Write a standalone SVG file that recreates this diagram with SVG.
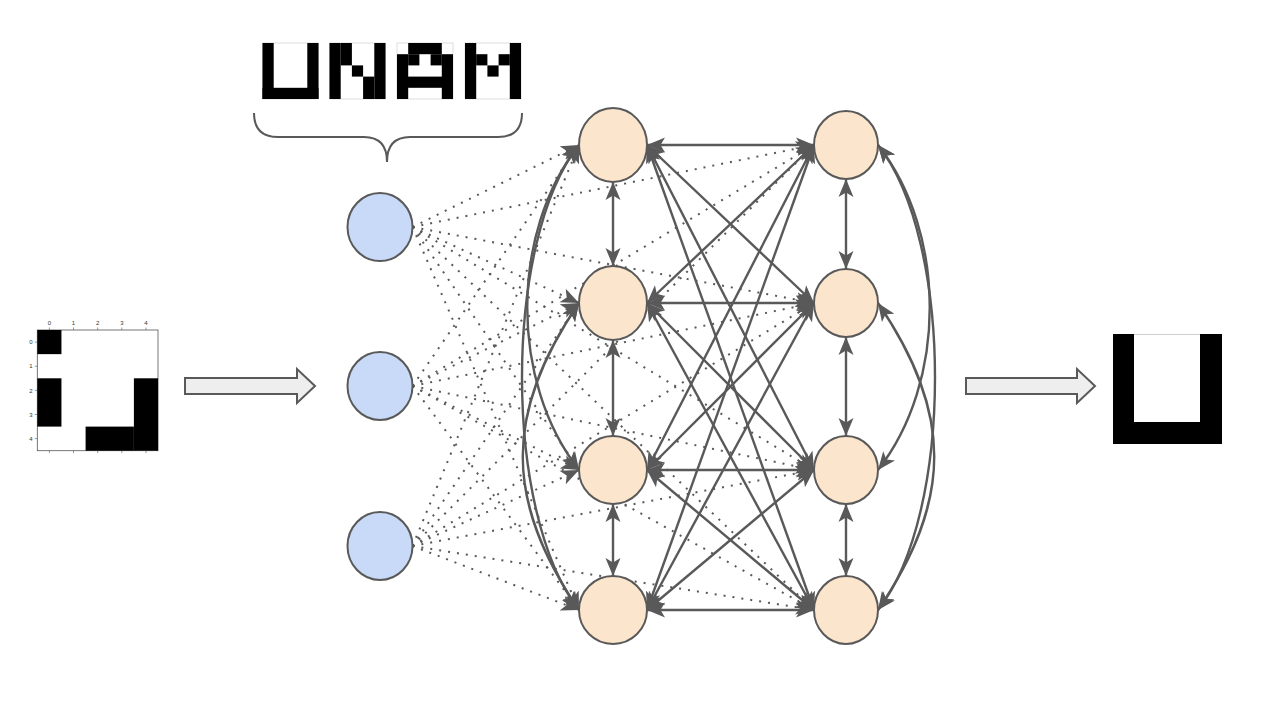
<svg xmlns="http://www.w3.org/2000/svg" width="1270" height="716" viewBox="0 0 1270 716">
<style>
.blk{fill:#000}
.lt{fill:#fff;stroke:#d4d4d4;stroke-width:0.8}
.in{fill:#c9daf8;stroke:#595959;stroke-width:2}
.hid{fill:#fce5cd;stroke:#595959;stroke-width:2}
.sol{fill:none;stroke:#595959;stroke-width:2.4;marker-start:url(#ah);marker-end:url(#ah)}
.dot{fill:none;stroke:#595959;stroke-width:2;stroke-dasharray:2 7;marker-end:url(#ah)}
.tick{stroke:#555;stroke-width:0.6}
.lbl{font-family:"Liberation Sans",Arial,sans-serif;font-size:6px;fill:#333}
.blockarrow{fill:#eeeeee;stroke:#595959;stroke-width:2}
</style>
<defs>
<marker id="ah" markerUnits="userSpaceOnUse" markerWidth="20" markerHeight="16" refX="18" refY="7.5" orient="auto-start-reverse" viewBox="0 0 20 15">
<path d="M0,0 L18,7.5 L0,15 L4.5,7.5 Z" fill="#595959"/>
</marker>
<filter id="soft" x="-5%" y="-5%" width="110%" height="110%"><feGaussianBlur stdDeviation="0.6"/></filter>
</defs>
<rect width="1270" height="716" fill="#fff"/>

<g id="input-image">
<rect x="37.3" y="330" width="120.7" height="120.7" fill="#fff" stroke="#555" stroke-width="0.8"/>
<rect class="blk" x="37.3" y="330" width="24.14" height="24.14"/>
<rect class="blk" x="37.3" y="378.3" width="24.14" height="48.3"/>
<rect class="blk" x="133.9" y="378.3" width="24.14" height="72.4"/>
<rect class="blk" x="85.6" y="426.6" width="48.3" height="24.14"/>
<g class="tick">
<line x1="49.4" y1="330" x2="49.4" y2="327.5"/><line x1="73.5" y1="330" x2="73.5" y2="327.5"/><line x1="97.7" y1="330" x2="97.7" y2="327.5"/><line x1="121.8" y1="330" x2="121.8" y2="327.5"/><line x1="146" y1="330" x2="146" y2="327.5"/>
<line x1="49.4" y1="450.7" x2="49.4" y2="453.2"/><line x1="73.5" y1="450.7" x2="73.5" y2="453.2"/><line x1="97.7" y1="450.7" x2="97.7" y2="453.2"/><line x1="121.8" y1="450.7" x2="121.8" y2="453.2"/><line x1="146" y1="450.7" x2="146" y2="453.2"/>
<line x1="37.3" y1="342.1" x2="34.8" y2="342.1"/><line x1="37.3" y1="366.2" x2="34.8" y2="366.2"/><line x1="37.3" y1="390.4" x2="34.8" y2="390.4"/><line x1="37.3" y1="414.5" x2="34.8" y2="414.5"/><line x1="37.3" y1="438.6" x2="34.8" y2="438.6"/>
</g>
<g class="lbl" text-anchor="middle">
<text x="49.4" y="325">0</text><text x="73.5" y="325">1</text><text x="97.7" y="325">2</text><text x="121.8" y="325">3</text><text x="146" y="325">4</text>
<text x="31" y="344.2">0</text><text x="31" y="368.3">1</text><text x="31" y="392.5">2</text><text x="31" y="416.6">3</text><text x="31" y="440.7">4</text>
</g>
</g>

<g id="arrow-in"><polygon class="blockarrow" points="185,378 297,378 297,369 315,386 297,403 297,394 185,394"/></g>
<g id="arrow-out"><polygon class="blockarrow" points="966,378 1077,378 1077,369 1095,386 1077,403 1077,394 966,394"/></g>

<g id="output-image" filter="url(#soft)">
<rect x="1113" y="334" width="109" height="110" fill="#000"/>
<rect x="1134" y="334" width="66" height="88" fill="#fff"/>
<line x1="1134" y1="334.5" x2="1200" y2="334.5" stroke="#cfcfcf" stroke-width="1"/>
</g>

<g id="unam">
<g id="letter-U">
<rect class="lt" x="262.5" y="43" width="56" height="56"/>
<rect class="blk" x="262.5" y="43" width="11.2" height="56"/>
<rect class="blk" x="307.3" y="43" width="11.2" height="56"/>
<rect class="blk" x="262.5" y="87.8" width="56" height="11.2"/>
</g>
<g id="letter-N">
<rect class="lt" x="329.5" y="43" width="56" height="56"/>
<rect class="blk" x="329.5" y="43" width="11.2" height="56"/>
<rect class="blk" x="374.3" y="43" width="11.2" height="56"/>
<rect class="blk" x="340.7" y="43" width="11.2" height="22.4"/>
<rect class="blk" x="351.9" y="65.4" width="11.2" height="11.2"/>
<rect class="blk" x="363.1" y="76.6" width="11.2" height="22.4"/>
</g>
<g id="letter-A">
<rect class="lt" x="397" y="43" width="56" height="56"/>
<rect class="blk" x="408.2" y="43" width="33.6" height="11.2"/>
<rect class="blk" x="397" y="54.2" width="11.2" height="44.8"/>
<rect class="blk" x="441.8" y="54.2" width="11.2" height="44.8"/>
<rect class="blk" x="408.2" y="54.2" width="11.2" height="11.2"/>
<rect class="blk" x="430.6" y="54.2" width="11.2" height="11.2"/>
<rect class="blk" x="397" y="76.6" width="56" height="11.2"/>
</g>
<g id="letter-M">
<rect class="lt" x="465" y="43" width="56" height="56"/>
<rect class="blk" x="465" y="43" width="11.2" height="56"/>
<rect class="blk" x="509.8" y="43" width="11.2" height="56"/>
<rect class="blk" x="476.2" y="54.2" width="11.2" height="11.2"/>
<rect class="blk" x="498.6" y="54.2" width="11.2" height="11.2"/>
<rect class="blk" x="487.4" y="65.4" width="11.2" height="11.2"/>
</g>
</g>

<g id="brace"><path d="M254,113 Q254,137 278,137 L364,137 Q387,137 387,162 Q387,137 410,137 L498,137 Q522,137 522,113" fill="none" stroke="#595959" stroke-width="2"/></g>

<g id="connectors">
<g id="dotted">
<path class="dot" d="M412.5,227 L579,145"/><path class="dot" d="M412.5,227 L579,303"/><path class="dot" d="M412.5,227 L579,470"/><path class="dot" d="M412.5,227 L579,610"/>
<path class="dot" d="M412.5,227 L814,145"/><path class="dot" d="M412.5,227 L814,303"/><path class="dot" d="M412.5,227 L814,470"/><path class="dot" d="M412.5,227 L814,610"/>
<path class="dot" d="M412.5,386 L579,145"/><path class="dot" d="M412.5,386 L579,303"/><path class="dot" d="M412.5,386 L579,470"/><path class="dot" d="M412.5,386 L579,610"/>
<path class="dot" d="M412.5,386 L814,145"/><path class="dot" d="M412.5,386 L814,303"/><path class="dot" d="M412.5,386 L814,470"/><path class="dot" d="M412.5,386 L814,610"/>
<path class="dot" d="M412.5,546 L579,145"/><path class="dot" d="M412.5,546 L579,303"/><path class="dot" d="M412.5,546 L579,470"/><path class="dot" d="M412.5,546 L579,610"/>
<path class="dot" d="M412.5,546 L814,145"/><path class="dot" d="M412.5,546 L814,303"/><path class="dot" d="M412.5,546 L814,470"/><path class="dot" d="M412.5,546 L814,610"/>
</g>
<g id="solid">
<path class="sol" d="M647,145 L814,145"/><path class="sol" d="M647,303 L814,303"/><path class="sol" d="M647,470 L814,470"/><path class="sol" d="M647,610 L814,610"/>
<path class="sol" d="M647,145 L814,303"/><path class="sol" d="M647,145 L814,470"/><path class="sol" d="M647,145 L814,610"/>
<path class="sol" d="M647,303 L814,145"/><path class="sol" d="M647,303 L814,470"/><path class="sol" d="M647,303 L814,610"/>
<path class="sol" d="M647,470 L814,145"/><path class="sol" d="M647,470 L814,303"/><path class="sol" d="M647,470 L814,610"/>
<path class="sol" d="M647,610 L814,145"/><path class="sol" d="M647,610 L814,303"/><path class="sol" d="M647,610 L814,470"/>
<path class="sol" d="M613,182 L613,266"/><path class="sol" d="M613,340 L613,436"/><path class="sol" d="M613,504 L613,576"/>
<path class="sol" d="M846,179 L846,269"/><path class="sol" d="M846,337 L846,436"/><path class="sol" d="M846,504 L846,576"/>
<path class="sol" d="M579,145 C503,241 503,514 579,610"/>
<path class="sol" d="M579,145 C510,233 510,382 579,470"/>
<path class="sol" d="M579,303 C504,413 504,500 579,610"/>
<path class="sol" d="M878,145 C954,241 954,514 878,610"/>
<path class="sol" d="M878,145 C947,233 947,382 878,470"/>
<path class="sol" d="M878,303 C953,413 953,500 878,610"/>
</g>
</g>

<g id="in1"><ellipse class="in" cx="380" cy="227" rx="32.5" ry="34"/></g>
<g id="in2"><ellipse class="in" cx="380" cy="386" rx="32.5" ry="34"/></g>
<g id="in3"><ellipse class="in" cx="380" cy="546" rx="32.5" ry="34"/></g>
<g id="h1a"><ellipse class="hid" cx="613" cy="145" rx="34" ry="37"/></g>
<g id="h1b"><ellipse class="hid" cx="613" cy="303" rx="34" ry="37"/></g>
<g id="h1c"><ellipse class="hid" cx="613" cy="470" rx="34" ry="34"/></g>
<g id="h1d"><ellipse class="hid" cx="613" cy="610" rx="34" ry="34"/></g>
<g id="h2a"><ellipse class="hid" cx="846" cy="145" rx="32" ry="34"/></g>
<g id="h2b"><ellipse class="hid" cx="846" cy="303" rx="32" ry="34"/></g>
<g id="h2c"><ellipse class="hid" cx="846" cy="470" rx="32" ry="34"/></g>
<g id="h2d"><ellipse class="hid" cx="846" cy="610" rx="32" ry="34"/></g>
</svg>
